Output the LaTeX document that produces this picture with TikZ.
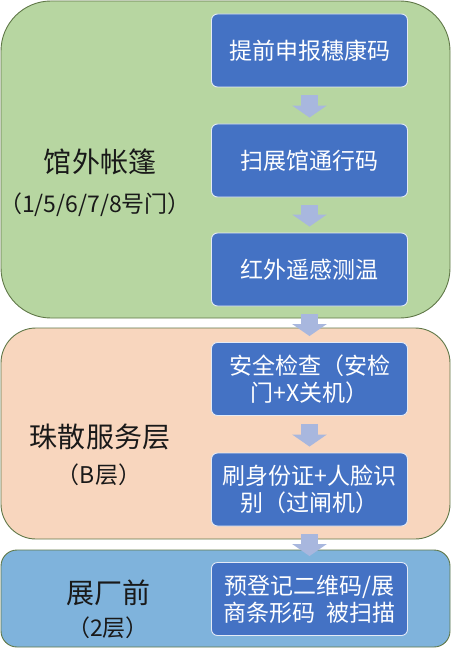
\documentclass[tikz,border=0pt]{standalone}
\usepackage{fontspec}
\setmainfont{Noto Sans CJK SC}
\usetikzlibrary{arrows.meta}
\definecolor{regG}{RGB}{183,214,161}
\definecolor{regO}{RGB}{248,214,190}
\definecolor{regB}{RGB}{127,179,220}
\definecolor{regLine}{RGB}{96,120,72}
\definecolor{boxFill}{RGB}{68,114,196}
\definecolor{arrFill}{RGB}{168,183,222}
\definecolor{lblText}{RGB}{25,25,25}
\tikzset{
  region/.style={draw=regLine, line width=0.9bp},
  stepbox/.style={draw=white!85!boxFill, line width=0.9bp, fill=boxFill, rounded corners=6bp,
    minimum width=196bp, minimum height=73bp, text=white, align=center,
    font=\fontsize{23bp}{27bp}\selectfont, inner sep=0pt},
  biglbl/.style={text=lblText, font=\fontsize{28bp}{32bp}\selectfont, inner sep=0pt},
  smlbl/.style={text=lblText, font=\fontsize{23bp}{26bp}\selectfont, inner sep=0pt},
  flow/.style={draw=arrFill, line width=17bp, shorten <=8bp, shorten >=6bp,
    -{Triangle[width=34bp,length=12bp,fill=arrFill]}}
}
\begin{document}
\begin{tikzpicture}[x=1bp,y=-1bp]
\useasboundingbox (0,0) rectangle (452,649);
% regions
\draw[region, fill=regG, rounded corners=50bp] (1,1) rectangle (450,318);
\draw[region, fill=regO, rounded corners=35bp] (1,328) rectangle (450,539);
\draw[region, fill=regB, rounded corners=16bp] (1,550) rectangle (450,647);
% labels
\node[biglbl] (lg1) at (100,162) {馆外帐篷};
\node[smlbl] (lg2) at (95,205) {（1/5/6/7/8号门）};
\node[biglbl] (lo1) at (100,437) {珠散服务层};
\node[smlbl] (lo2) at (99,475) {（B层）};
\node[biglbl] (lb1) at (108,593) {展厂前};
\node[smlbl] (lb2) at (108,628) {（2层）};
% step boxes
\node[stepbox] (b1) at (309.5,50.5) {提前申报穗康码};
\node[stepbox] (b2) at (309.5,160.5) {扫展馆通行码};
\node[stepbox] (b3) at (309.5,269.5) {红外遥感测温};
\node[stepbox] (b4) at (309.5,379) {安全检查（安检\\门+X关机）};
\node[stepbox] (b5) at (309.5,489.5) {刷身份证+人脸识\\别（过闸机）};
\node[stepbox] (b6) at (309.5,599) {预登记二维码/展\\商条形码\ \ 被扫描};
% arrows
\draw[flow] (b1) -- (b2);
\draw[flow] (b2) -- (b3);
\draw[flow] (b3) -- (b4);
\draw[flow] (b4) -- (b5);
\draw[flow] (b5) -- (b6);
\end{tikzpicture}
\end{document}
